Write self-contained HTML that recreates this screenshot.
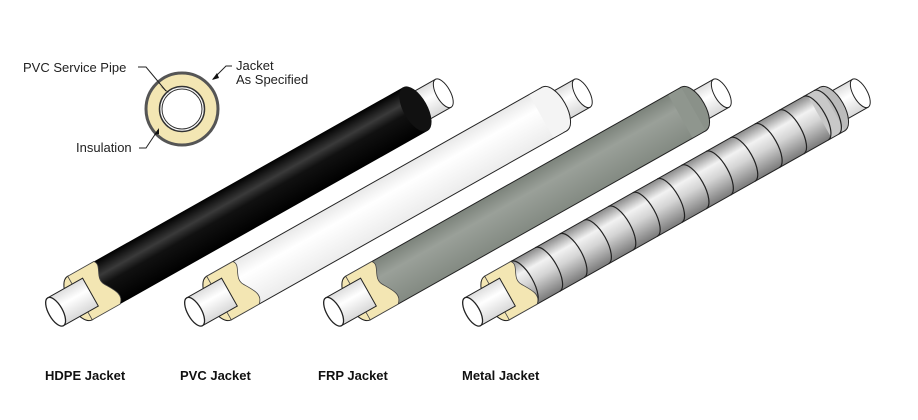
<!DOCTYPE html>
<html><head><meta charset="utf-8"><style>
html,body{margin:0;padding:0;background:#fff;}
svg{display:block;}
text{font-family:"Liberation Sans",sans-serif;}
</style></head><body>
<svg width="918" height="420" viewBox="0 0 918 420" xmlns="http://www.w3.org/2000/svg">
<defs>
<linearGradient id="gB" gradientUnits="userSpaceOnUse" x1="0" y1="-25" x2="0" y2="25">
<stop offset="0" stop-color="#000"/><stop offset="0.3" stop-color="#3a3a3a"/><stop offset="0.5" stop-color="#111"/><stop offset="1" stop-color="#000"/></linearGradient>
<linearGradient id="gW" gradientUnits="userSpaceOnUse" x1="0" y1="-25" x2="0" y2="25">
<stop offset="0" stop-color="#e8e8e8"/><stop offset="0.35" stop-color="#fff"/><stop offset="1" stop-color="#ececec"/></linearGradient>
<linearGradient id="gF" gradientUnits="userSpaceOnUse" x1="0" y1="-25" x2="0" y2="25">
<stop offset="0" stop-color="#7c837b"/><stop offset="0.35" stop-color="#9aa099"/><stop offset="1" stop-color="#838a82"/></linearGradient>
<linearGradient id="gM" gradientUnits="userSpaceOnUse" x1="0" y1="-25" x2="0" y2="25">
<stop offset="0" stop-color="#8a8a8a"/><stop offset="0.3" stop-color="#f2f2f2"/><stop offset="0.55" stop-color="#d4d4d4"/><stop offset="1" stop-color="#7a7a7a"/></linearGradient>
<linearGradient id="gP" gradientUnits="userSpaceOnUse" x1="0" y1="-16" x2="0" y2="16">
<stop offset="0" stop-color="#ddd"/><stop offset="0.4" stop-color="#fff"/><stop offset="1" stop-color="#d8d8d8"/></linearGradient>
<g id="stubTop">
<rect x="385" y="-16" width="32" height="32" fill="url(#gP)" stroke="#222" stroke-width="1"/>
<ellipse cx="417" cy="0" rx="7" ry="16" fill="#fff" stroke="#222" stroke-width="1"/>
</g>
<g id="stubBot">
<rect x="-28" y="-16" width="40" height="32" fill="url(#gP)" stroke="#222" stroke-width="1"/>
<ellipse cx="-28" cy="0" rx="7" ry="16" fill="#fff" stroke="#222" stroke-width="1.3"/>
</g>
<g id="ins">
<ellipse cx="0" cy="0" rx="12" ry="25" fill="#f3e6b3" stroke="#222" stroke-width="1"/>
<path d="M0,-25 L30,-25 C36,-18 22,-10 28,0 C34,10 40,18 32,25 L0,25 Z" fill="#f3e6b3" stroke="#444" stroke-width="0.8"/>
</g>
</defs>

<!-- cross section -->
<circle cx="182" cy="109" r="36" fill="#f3e6b3" stroke="#555" stroke-width="3"/>
<circle cx="182" cy="109" r="22.5" fill="#fff" stroke="#333" stroke-width="1.5"/>
<circle cx="182" cy="109" r="20" fill="none" stroke="#333" stroke-width="1"/>
<text x="23" y="72" font-size="13" fill="#222">PVC Service Pipe</text>
<polyline points="138,67 146,67 166,91" fill="none" stroke="#222" stroke-width="1"/>
<polygon points="166,91 160,86 170,93" fill="#111"/>
<text x="236" y="70" font-size="13" fill="#222">Jacket</text>
<text x="236" y="84" font-size="13" fill="#222">As Specified</text>
<polyline points="232,66 226,66 213,79" fill="none" stroke="#222" stroke-width="1"/>
<polygon points="212,80 217,73 219,78" fill="#111"/>
<text x="76" y="152" font-size="13" fill="#222">Insulation</text>
<polyline points="139,148 146,148 158,130" fill="none" stroke="#222" stroke-width="1"/>
<polygon points="159,128 154,135 159,134" fill="#111"/>

<!-- HDPE -->
<g transform="translate(80,298) rotate(-29.4)">
<use href="#stubTop"/>
<rect x="0" y="-25" width="385" height="50" fill="url(#gB)"/>
<ellipse cx="385" cy="0" rx="12" ry="25" fill="#111"/>
<use href="#ins"/><use href="#stubBot"/>
</g>
<!-- PVC -->
<g transform="translate(219,298) rotate(-29.4)">
<use href="#stubTop"/>
<rect x="0" y="-25" width="385" height="50" fill="url(#gW)" stroke="#222" stroke-width="1"/>
<ellipse cx="385" cy="0" rx="12" ry="25" fill="#f4f4f4" stroke="#222" stroke-width="1"/>
<rect x="370" y="-24.5" width="15" height="49" fill="#f4f4f4"/>
<use href="#ins"/><use href="#stubBot"/>
</g>
<!-- FRP -->
<g transform="translate(358,298) rotate(-29.4)">
<use href="#stubTop"/>
<rect x="0" y="-25" width="385" height="50" fill="url(#gF)" stroke="#222" stroke-width="1"/>
<ellipse cx="385" cy="0" rx="12" ry="25" fill="#8a9189" stroke="#222" stroke-width="1"/>
<rect x="370" y="-24.5" width="15" height="49" fill="#8f968e"/>
<use href="#ins"/><use href="#stubBot"/>
</g>
<!-- Metal -->
<g transform="translate(497,298) rotate(-29.4)">
<use href="#stubTop"/>
<rect x="0" y="-25" width="385" height="50" fill="url(#gM)" stroke="#222" stroke-width="1"/>
<ellipse cx="385" cy="0" rx="12" ry="25" fill="#bbb" stroke="#222" stroke-width="1"/>
<rect x="370" y="-24.5" width="15" height="49" fill="#c8c8c8"/>
<g fill="none" stroke="#222" stroke-width="1.2">
<path d="M30,-25 A10,25 0 0 1 30,25"/><path d="M58,-25 A10,25 0 0 1 58,25"/><path d="M86,-25 A10,25 0 0 1 86,25"/>
<path d="M114,-25 A10,25 0 0 1 114,25"/><path d="M142,-25 A10,25 0 0 1 142,25"/><path d="M170,-25 A10,25 0 0 1 170,25"/>
<path d="M198,-25 A10,25 0 0 1 198,25"/><path d="M226,-25 A10,25 0 0 1 226,25"/><path d="M254,-25 A10,25 0 0 1 254,25"/>
<path d="M282,-25 A10,25 0 0 1 282,25"/><path d="M310,-25 A10,25 0 0 1 310,25"/><path d="M338,-25 A10,25 0 0 1 338,25"/>
<path d="M366,-25 A10,25 0 0 1 366,25"/><path d="M378,-25 A10,25 0 0 1 378,25"/>
</g>
<use href="#ins"/><use href="#stubBot"/>
</g>

<g font-size="13" font-weight="bold" fill="#111">
<text x="45" y="380">HDPE Jacket</text>
<text x="180" y="380">PVC Jacket</text>
<text x="318" y="380">FRP Jacket</text>
<text x="462" y="380">Metal Jacket</text>
</g>
</svg>
</body></html>
